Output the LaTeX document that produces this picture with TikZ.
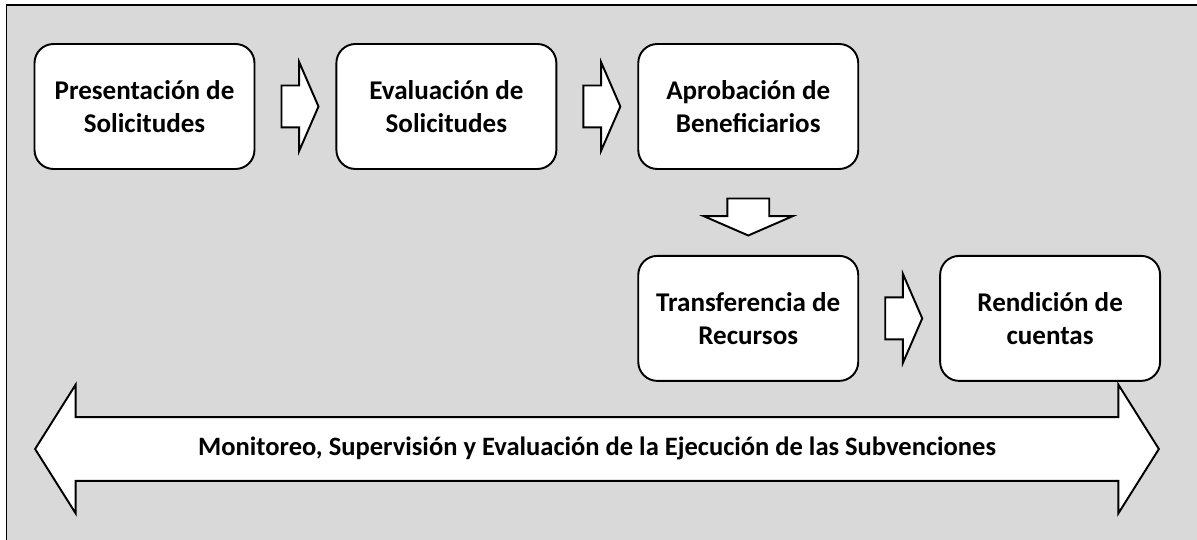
\documentclass[tikz,border=0pt]{standalone}
\usepackage{fontspec}
\setmainfont{Carlito}
\usetikzlibrary{positioning,calc,shapes.arrows}
\definecolor{fondo}{HTML}{D9D9D9}

\begin{document}
\begin{tikzpicture}[x=0.02cm,y=-0.02cm,
    etapa/.style={draw,line width=1.1pt,fill=white,rounded corners=0.38cm,
      minimum width=4.4cm,minimum height=2.5cm,align=center,
      font=\fontsize{15.4}{18.8}\selectfont\bfseries},
    flecha/.style={single arrow,draw,line width=1.1pt,fill=white,
      inner xsep=0pt,inner ysep=0.4cm,minimum height=0.74cm,
      single arrow head extend=0.47cm,single arrow tip angle=133},
    node distance=1.70cm and 1.60cm]
  \useasboundingbox (0,0) rectangle (1197,540);
  \draw[line width=1.1pt,fill=fondo] (6.5,5) rectangle (1199,560);
  % etapas del proceso
  \node[etapa] (pres) at (144.5,106.5) {Presentación de\\Solicitudes};
  \node[etapa,right=of pres] (eval) {Evaluación de\\Solicitudes};
  \node[etapa,right=of eval] (aprob) {Aprobación de\\Beneficiarios};
  \node[etapa,below=of aprob] (transf) {Transferencia de\\Recursos};
  \node[etapa,right=of transf] (rend) {Rendición de\\cuentas};
  % flechas entre etapas
  \node[flecha] at ($(pres.east)!0.5!(eval.west)$) {};
  \node[flecha] at ($(eval.east)!0.5!(aprob.west)$) {};
  \node[flecha,rotate=-90] at ($(aprob.south)!0.5!(transf.north)$) {};
  \node[flecha] at ($(transf.east)!0.5!(rend.west)$) {};
  % monitoreo
  \node[double arrow,draw,line width=1.1pt,fill=white,
    minimum height=22.48cm,text height=10pt,text depth=3pt,inner ysep=11.1pt,
    double arrow head extend=0.65cm,double arrow tip angle=115.6,
    font=\fontsize{15.1}{18}\selectfont\bfseries] (monit) at (597,449)
    {Monitoreo, Supervisión y Evaluación de la Ejecución de las Subvenciones};
\end{tikzpicture}
\end{document}
